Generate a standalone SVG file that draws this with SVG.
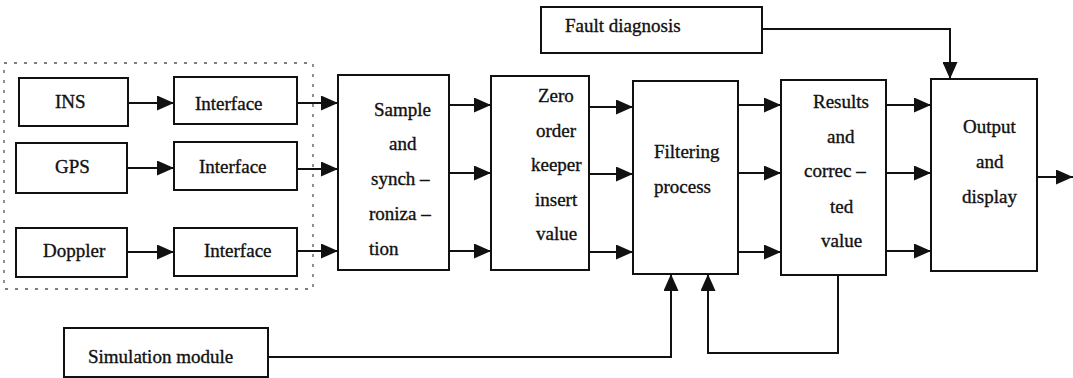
<svg xmlns="http://www.w3.org/2000/svg" width="1073" height="378" viewBox="0 0 1073 378">
<style>
.box{fill:#fff;stroke:#111;stroke-width:2}
.t{font-family:'Liberation Serif',serif;font-size:19px;fill:#111;stroke:#111;stroke-width:0.35}
.arr{fill:none;stroke:#111;stroke-width:2;marker-end:url(#ah)}
.frame{fill:none;stroke:#555;stroke-width:1.3;stroke-dasharray:3 7}
</style>
<defs>
<marker id="ah" markerUnits="userSpaceOnUse" markerWidth="17" markerHeight="15" refX="17" refY="7.5" orient="auto">
<path d="M0,0 L17,7.5 L0,15 z" fill="#111"/>
</marker>
</defs>
<rect width="1073" height="378" fill="#fff"/>
<rect class="frame" x="4" y="63" width="309" height="226"/>

<g id="ins"><rect class="box" x="19" y="78" width="109" height="48"/><text class="t" x="55" y="108">INS</text></g>
<g id="gps"><rect class="box" x="16" y="143" width="111" height="50"/><text class="t" x="55" y="173">GPS</text></g>
<g id="doppler"><rect class="box" x="16" y="228" width="111" height="49"/><text class="t" x="43" y="257">Doppler</text></g>
<g id="if1"><rect class="box" x="174" y="77" width="123" height="47"/><text class="t" x="195" y="110">Interface</text></g>
<g id="if2"><rect class="box" x="174" y="142" width="123" height="48"/><text class="t" x="199" y="173">Interface</text></g>
<g id="if3"><rect class="box" x="174" y="228" width="123" height="48"/><text class="t" x="204" y="257">Interface</text></g>
<g id="sample"><rect class="box" x="338" y="75" width="111" height="195"/>
<text class="t" x="374" y="116">Sample</text><text class="t" x="389" y="150">and</text><text class="t" x="371" y="185">synch –</text><text class="t" x="369" y="220">roniza –</text><text class="t" x="369" y="255">tion</text></g>
<g id="zero"><rect class="box" x="491" y="76" width="98" height="194"/>
<text class="t" x="538" y="102">Zero</text><text class="t" x="536" y="137">order</text><text class="t" x="531" y="171">keeper</text><text class="t" x="535" y="206">insert</text><text class="t" x="536" y="240">value</text></g>
<g id="filter"><rect class="box" x="633" y="81" width="105" height="193"/>
<text class="t" x="654" y="158">Filtering</text><text class="t" x="654" y="193">process</text></g>
<g id="results"><rect class="box" x="781" y="80" width="105" height="195"/>
<text class="t" x="813" y="108">Results</text><text class="t" x="827" y="143">and</text><text class="t" x="804" y="177">correc –</text><text class="t" x="830" y="213">ted</text><text class="t" x="821" y="247">value</text></g>
<g id="output"><rect class="box" x="931" y="79" width="106" height="192"/>
<text class="t" x="963" y="133">Output</text><text class="t" x="976" y="168">and</text><text class="t" x="962" y="203">display</text></g>
<g id="fault"><rect class="box" x="541" y="7" width="221" height="46"/><text class="t" x="565" y="32">Fault diagnosis</text></g>
<g id="sim"><rect class="box" x="64" y="328" width="204" height="49"/><text class="t" x="88" y="363">Simulation module</text></g>

<g id="connectors">
<path class="arr" d="M128,103 H174"/>
<path class="arr" d="M127,168 H174"/>
<path class="arr" d="M127,252 H174"/>
<path class="arr" d="M297,103 H338"/>
<path class="arr" d="M297,169 H338"/>
<path class="arr" d="M297,251 H338"/>
<path class="arr" d="M449,105 H491"/>
<path class="arr" d="M449,173 H491"/>
<path class="arr" d="M449,251 H491"/>
<path class="arr" d="M589,107 H633"/>
<path class="arr" d="M589,174 H633"/>
<path class="arr" d="M589,252 H633"/>
<path class="arr" d="M738,105 H781"/>
<path class="arr" d="M738,173 H781"/>
<path class="arr" d="M738,252 H781"/>
<path class="arr" d="M886,105 H931"/>
<path class="arr" d="M886,173 H931"/>
<path class="arr" d="M886,251 H931"/>
<path class="arr" d="M1037,177 H1073"/>
<path class="arr" d="M762,29 H950 V79"/>
<path class="arr" d="M268,357 H671 V274"/>
<path class="arr" d="M838,275 V353 H708 V274"/>
</g>
</svg>
